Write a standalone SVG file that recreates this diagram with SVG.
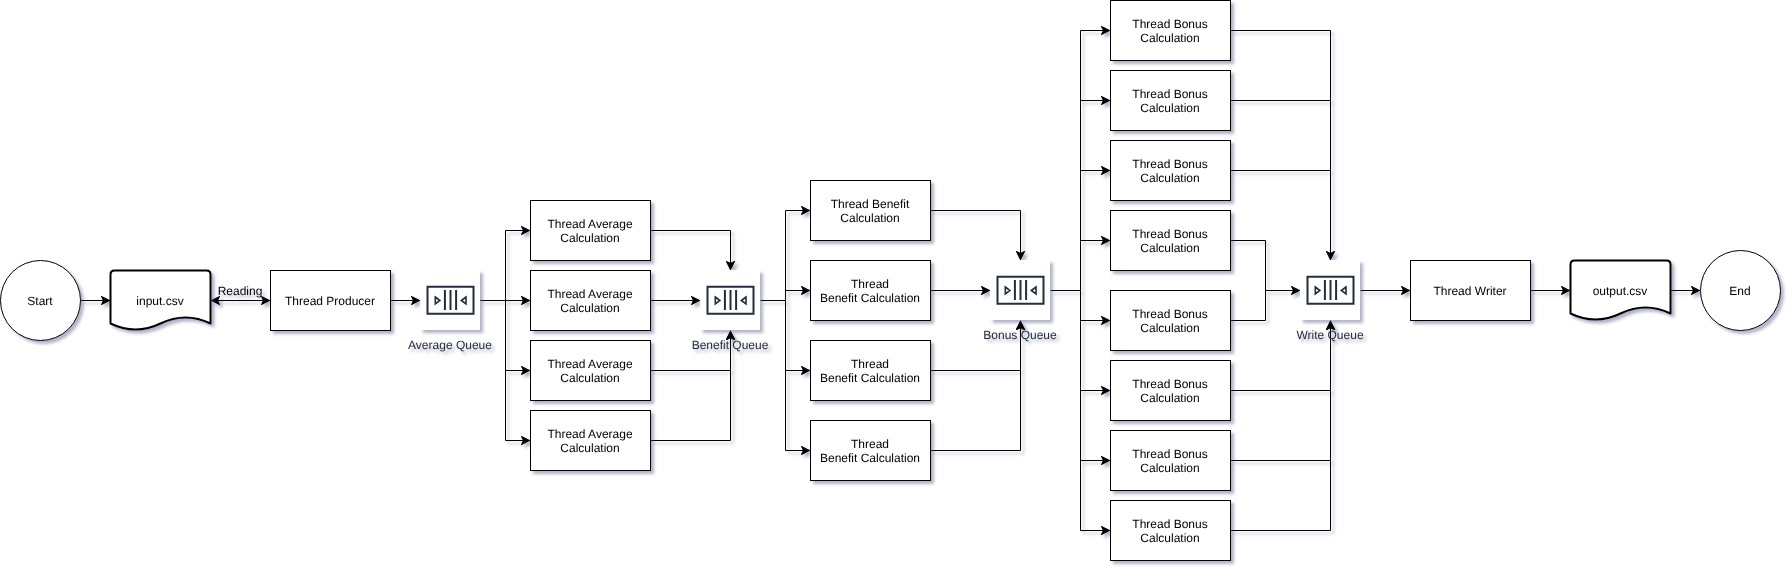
<svg xmlns="http://www.w3.org/2000/svg" width="1792" height="572" viewBox="0 0 1792 572">
<style>
text{font-family:"Liberation Sans",Arial,sans-serif;font-size:12px;fill:#000;text-anchor:middle;text-rendering:geometricPrecision}
.b{fill:#fff;stroke:#000;stroke-width:1}
.d{fill:#fff;stroke:#000;stroke-width:2;stroke-linejoin:round}
.q{fill:#fff}
.i{fill:none;stroke:#232F3D;stroke-width:2}
.l{fill:#232F3D}
.c{fill:none;stroke:#000;stroke-width:1;marker-end:url(#a)}
.n{fill:none;stroke:#000;stroke-width:1}
</style>
<defs>
<filter id="s" x="-30%" y="-30%" width="160%" height="160%"><feGaussianBlur in="SourceAlpha" stdDeviation="1.7" result="b"/><feOffset in="b" dx="3" dy="3" result="o"/><feFlood flood-color="#3D4574" flood-opacity="0.4" result="f"/><feComposite in="f" in2="o" operator="in" result="o2"/><feBlend in="SourceGraphic" in2="o2"/></filter>
<filter id="sc" filterUnits="userSpaceOnUse" x="0" y="0" width="1792" height="572"><feGaussianBlur in="SourceAlpha" stdDeviation="1.7" result="b"/><feOffset in="b" dx="3" dy="3" result="o"/><feFlood flood-color="#3D4574" flood-opacity="0.4" result="f"/><feComposite in="f" in2="o" operator="in" result="o2"/><feBlend in="SourceGraphic" in2="o2"/></filter>
<marker id="a" markerUnits="userSpaceOnUse" markerWidth="10" markerHeight="10" viewBox="-1 -1 9 9" refX="7" refY="3.5" orient="auto-start-reverse"><path d="M7 3.5L0 7L1.75 3.5L0 0Z" fill="#000" stroke="#000"/></marker>
<g id="qi"><path class="i" d="M427.5 286.8H473.5V313.8H427.5Z"/><path class="i" d="M444.9 290V310M450.5 290V310M456.1 290V310"/><path class="i" style="stroke-width:1.6" d="M435.3 297L439.9 300.5L435.3 304ZM466 297L461.3 300.5L466 304Z"/></g>
</defs>
<g id="connectors" filter="url(#sc)">
<path class="c" d="M80.5 300.5H109.4"/>
<path class="c" style="marker-start:url(#a)" d="M211.6 300.5H269.4"/>
<path class="c" d="M390.5 300.5H419.4"/>
<path class="c" d="M480.5 300.5H505.5V230.5H529.4"/>
<path class="c" d="M480.5 300.5H529.4"/>
<path class="c" d="M505.5 300.5V370.5H529.4"/>
<path class="c" d="M505.5 370.5V440.5H529.4"/>
<path class="c" d="M650.5 230.5H730.5V269.4"/>
<path class="c" d="M650.5 300.5H699.4"/>
<path class="c" d="M650.5 370.5H730.5V331.6"/>
<path class="c" d="M650.5 440.5H730.5V331.6"/>
<path class="c" d="M760.5 300.5H785.5V210.5H809.4"/>
<path class="c" d="M785.5 300.5V290.5H809.4"/>
<path class="c" d="M785.5 300.5V370.5H809.4"/>
<path class="c" d="M785.5 370.5V450.5H809.4"/>
<path class="c" d="M930.5 210.5H1020.5V259.4"/>
<path class="c" d="M930.5 290.5H989.4"/>
<path class="c" d="M930.5 370.5H1020.5V321.6"/>
<path class="c" d="M930.5 450.5H1020.5V321.6"/>
<path class="n" d="M1050.5 290.5H1080.5"/>
<path class="c" d="M1080.5 290.5V30.5H1109.4"/>
<path class="c" d="M1080.5 100.5H1109.4"/>
<path class="c" d="M1080.5 170.5H1109.4"/>
<path class="c" d="M1080.5 240.5H1109.4"/>
<path class="c" d="M1080.5 290.5V530.5H1109.4"/>
<path class="c" d="M1080.5 320.5H1109.4"/>
<path class="c" d="M1080.5 390.5H1109.4"/>
<path class="c" d="M1080.5 460.5H1109.4"/>
<path class="c" d="M1230.5 30.5H1330.5V259.4"/>
<path class="n" d="M1230.5 100.5H1330.5"/>
<path class="n" d="M1230.5 170.5H1330.5"/>
<path class="c" d="M1230.5 240.5H1265.5V290.5H1299.4"/>
<path class="n" d="M1230.5 320.5H1265.5V290.5"/>
<path class="c" d="M1230.5 390.5H1330.5V321.6"/>
<path class="n" d="M1230.5 460.5H1330.5"/>
<path class="c" d="M1230.5 530.5H1330.5V321.6"/>
<path class="c" d="M1360.5 290.5H1409.4"/>
<path class="c" d="M1530.5 290.5H1569.4"/>
<path class="c" d="M1670.5 290.5H1699.4"/>
</g>
<g id="start" filter="url(#s)"><circle class="b" cx="40.5" cy="300.5" r="40"/><text x="40" y="304.5">Start</text></g>
<g id="input" filter="url(#s)"><path class="d" d="M110.5 323.5V274.5Q110.5 270.5 114.5 270.5H206.5Q210.5 270.5 210.5 274.5V323.5Q185.5 311.5 160.5 323.5T110.5 323.5Z"/><text x="160" y="304.5">input.csv</text></g>
<g id="reading" filter="url(#sc)"><text x="240" y="295">Reading</text></g>
<g id="producer" filter="url(#s)"><rect class="b" x="270.5" y="270.5" width="120" height="60"/><text x="330" y="304.5">Thread Producer</text></g>
<g id="avgq" filter="url(#s)"><rect class="q" x="420" y="270" width="60" height="60"/><use href="#qi"/><text class="l" x="450" y="348.5">Average Queue</text></g>
<g id="avg1" filter="url(#s)"><rect class="b" x="530.5" y="200.5" width="120" height="60"/><text x="590" y="228">Thread Average</text><text x="590" y="242">Calculation</text></g>
<g id="avg2" filter="url(#s)"><rect class="b" x="530.5" y="270.5" width="120" height="60"/><text x="590" y="298">Thread Average</text><text x="590" y="312">Calculation</text></g>
<g id="avg3" filter="url(#s)"><rect class="b" x="530.5" y="340.5" width="120" height="60"/><text x="590" y="368">Thread Average</text><text x="590" y="382">Calculation</text></g>
<g id="avg4" filter="url(#s)"><rect class="b" x="530.5" y="410.5" width="120" height="60"/><text x="590" y="438">Thread Average</text><text x="590" y="452">Calculation</text></g>
<g id="benq" filter="url(#s)"><rect class="q" x="700" y="270" width="60" height="60"/><use href="#qi" x="280"/><text class="l" x="730" y="348.5">Benefit Queue</text></g>
<g id="ben1" filter="url(#s)"><rect class="b" x="810.5" y="180.5" width="120" height="60"/><text x="870" y="208">Thread Benefit</text><text x="870" y="222">Calculation</text></g>
<g id="ben2" filter="url(#s)"><rect class="b" x="810.5" y="260.5" width="120" height="60"/><text x="870" y="288">Thread</text><text x="870" y="302">Benefit Calculation</text></g>
<g id="ben3" filter="url(#s)"><rect class="b" x="810.5" y="340.5" width="120" height="60"/><text x="870" y="368">Thread</text><text x="870" y="382">Benefit Calculation</text></g>
<g id="ben4" filter="url(#s)"><rect class="b" x="810.5" y="420.5" width="120" height="60"/><text x="870" y="448">Thread</text><text x="870" y="462">Benefit Calculation</text></g>
<g id="bonq" filter="url(#s)"><rect class="q" x="990" y="260" width="60" height="60"/><use href="#qi" x="570" y="-10"/><text class="l" x="1020" y="338.5">Bonus Queue</text></g>
<g id="bon1" filter="url(#s)"><rect class="b" x="1110.5" y="0.5" width="120" height="60"/><text x="1170" y="28">Thread Bonus</text><text x="1170" y="42">Calculation</text></g>
<g id="bon2" filter="url(#s)"><rect class="b" x="1110.5" y="70.5" width="120" height="60"/><text x="1170" y="98">Thread Bonus</text><text x="1170" y="112">Calculation</text></g>
<g id="bon3" filter="url(#s)"><rect class="b" x="1110.5" y="140.5" width="120" height="60"/><text x="1170" y="168">Thread Bonus</text><text x="1170" y="182">Calculation</text></g>
<g id="bon4" filter="url(#s)"><rect class="b" x="1110.5" y="210.5" width="120" height="60"/><text x="1170" y="238">Thread Bonus</text><text x="1170" y="252">Calculation</text></g>
<g id="bon5" filter="url(#s)"><rect class="b" x="1110.5" y="290.5" width="120" height="60"/><text x="1170" y="318">Thread Bonus</text><text x="1170" y="332">Calculation</text></g>
<g id="bon6" filter="url(#s)"><rect class="b" x="1110.5" y="360.5" width="120" height="60"/><text x="1170" y="388">Thread Bonus</text><text x="1170" y="402">Calculation</text></g>
<g id="bon7" filter="url(#s)"><rect class="b" x="1110.5" y="430.5" width="120" height="60"/><text x="1170" y="458">Thread Bonus</text><text x="1170" y="472">Calculation</text></g>
<g id="bon8" filter="url(#s)"><rect class="b" x="1110.5" y="500.5" width="120" height="60"/><text x="1170" y="528">Thread Bonus</text><text x="1170" y="542">Calculation</text></g>
<g id="writeq" filter="url(#s)"><rect class="q" x="1300" y="260" width="60" height="60"/><use href="#qi" x="880" y="-10"/><text class="l" x="1330" y="338.5">Write Queue</text></g>
<g id="writer" filter="url(#s)"><rect class="b" x="1410.5" y="260.5" width="120" height="60"/><text x="1470" y="294.5">Thread Writer</text></g>
<g id="output" filter="url(#s)"><path class="d" d="M1570.5 313.5V264.5Q1570.5 260.5 1574.5 260.5H1666.5Q1670.5 260.5 1670.5 264.5V313.5Q1645.5 301.5 1620.5 313.5T1570.5 313.5Z"/><text x="1620" y="294.5">output.csv</text></g>
<g id="end" filter="url(#s)"><circle class="b" cx="1740.5" cy="290.5" r="40"/><text x="1740" y="294.5">End</text></g>
</svg>
